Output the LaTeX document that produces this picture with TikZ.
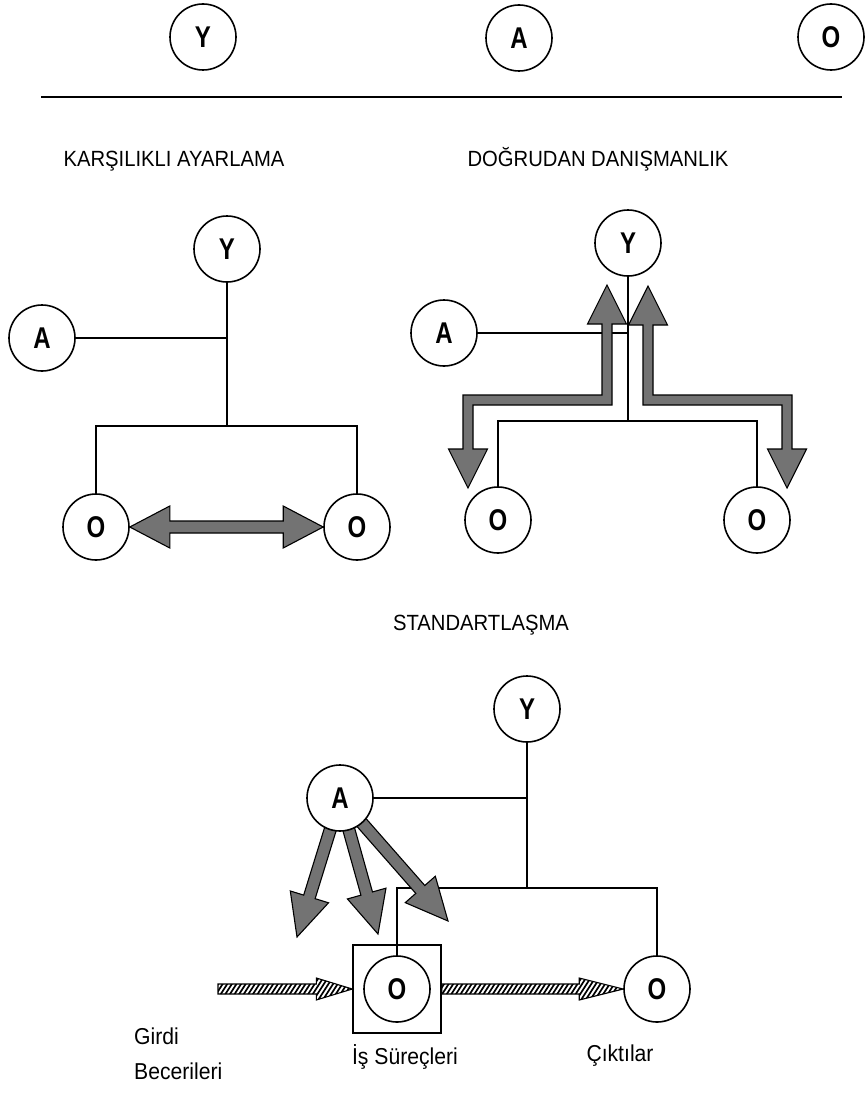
\documentclass[tikz,border=0pt]{standalone}
\usepackage{fontspec}
\setmainfont{Liberation Sans}
\newfontfamily\letterfont[FakeStretch=0.8]{Liberation Sans Bold}
\newfontfamily\labelfont[FakeStretch=0.92]{Liberation Sans}
\usetikzlibrary{calc,backgrounds}

% straight grey arrow with one head: start, tip, shaft half-width, head half-width, head length
\newcommand\fatarrow[5]{%
  \filldraw[fat] let \p1=(#1), \p2=(#2), \n1={atan2(\y2-\y1,\x2-\x1)} in
    ($(\p1)+(\n1+90:#3)$)
    -- ($(\p2)+(\n1+180:#5)+(\n1+90:#3)$)
    -- ($(\p2)+(\n1+180:#5)+(\n1+90:#4)$)
    -- (\p2)
    -- ($(\p2)+(\n1+180:#5)+(\n1-90:#4)$)
    -- ($(\p2)+(\n1+180:#5)+(\n1-90:#3)$)
    -- ($(\p1)+(\n1-90:#3)$) -- cycle;}

% straight grey arrow with a head at both ends
\newcommand\fatdarrow[5]{%
  \filldraw[fat] let \p1=(#1), \p2=(#2), \n1={atan2(\y2-\y1,\x2-\x1)} in
    (\p1)
    -- ($(\p1)+(\n1:#5)+(\n1+90:#4)$)
    -- ($(\p1)+(\n1:#5)+(\n1+90:#3)$)
    -- ($(\p2)+(\n1+180:#5)+(\n1+90:#3)$)
    -- ($(\p2)+(\n1+180:#5)+(\n1+90:#4)$)
    -- (\p2)
    -- ($(\p2)+(\n1+180:#5)+(\n1-90:#4)$)
    -- ($(\p2)+(\n1+180:#5)+(\n1-90:#3)$)
    -- ($(\p1)+(\n1:#5)+(\n1-90:#3)$)
    -- ($(\p1)+(\n1:#5)+(\n1-90:#4)$) -- cycle;}

% outline of a horizontal hatched arrow: start, tip, head length
\newcommand\hatchoutline[3]{($(#1)+(0,-5)$) -- ($(#2)+(-#3,-5)$) -- ($(#2)+(-#3,-11)$)
  -- (#2) -- ($(#2)+(-#3,11)$) -- ($(#2)+(-#3,5)$) -- ($(#1)+(0,5)$) -- cycle}

% hatched arrow: start, tip, head length, first stroke x, number of strokes
\newcommand\hatcharrow[5]{%
  \fill[white] \hatchoutline{#1}{#2}{#3};
  \begin{scope}
    \clip \hatchoutline{#1}{#2}{#3};
    \foreach \k in {0,...,#5} \draw[line width=1.7pt] (#4+\k*4.6,1004) -- ++(18,-28);
  \end{scope}
  \draw[line width=1.1pt, line join=miter] \hatchoutline{#1}{#2}{#3};}

\tikzset{
  unit/.style={circle, draw, line width=1.6pt, fill=white, minimum size=66pt,
    inner sep=0pt, font=\letterfont\fontsize{30}{30}\selectfont},
  link/.style={line width=1.4pt},
  heading/.style={font=\labelfont\fontsize{22}{24}\selectfont, anchor=base},
  caption/.style={font=\labelfont\fontsize{23}{33}\selectfont, anchor=base west, inner sep=0pt},
  fat/.style={fill=black!55, draw=black, line width=1.1pt, line join=miter},
}

\begin{document}
\begin{tikzpicture}[x=1pt,y=-1pt]
\useasboundingbox (0,0) rectangle (867,1097);

% ---------- legend row ----------
\node[unit] (tY) at (203,37) {Y};
\node[unit] (tA) at (519,38) {A};
\node[unit] (tO) at (831,37) {O};
\coordinate (ruleL) at (41,97);
\coordinate (ruleR) at (842,97);

% ---------- headings ----------
\node[heading] (h1) at (174,166) {KARŞILIKLI AYARLAMA};
\node[heading] (h2) at (598,166) {DOĞRUDAN DANIŞMANLIK};
\node[heading] (h3) at (481,630) {STANDARTLAŞMA};

% ---------- mutual adjustment ----------
\node[unit] (mY) at (227,249) {Y};
\node[unit] (mA) at (42,338) {A};
\node[unit] (mO1) at (96,527) {O};
\node[unit] (mO2) at (357,527) {O};
\coordinate (mJ) at (227,338);
\coordinate (mB) at (227,426);

% ---------- direct supervision ----------
\node[unit] (dY) at (628,243) {Y};
\node[unit] (dA) at (444,333) {A};
\node[unit] (dO1) at (498,520) {O};
\node[unit] (dO2) at (757,520) {O};
\coordinate (dJ) at (628,333);
\coordinate (dB) at (628,421);
\coordinate (dLt) at (607,285);
\coordinate (dRt) at (648,286);

% ---------- standardisation ----------
\node[unit] (sY) at (527,709) {Y};
\node[unit] (sA) at (340,798) {A};
\node[draw, line width=1.4pt, minimum size=88pt, inner sep=0pt] (box) at (397,989) {};
\node[unit] (sO1) at (397,989) {O};
\node[unit] (sO2) at (657,989) {O};
\coordinate (sJ) at (527,798);
\coordinate (sB) at (527,888);
\coordinate (t1) at (297,937);
\coordinate (t2) at (378,934);
\coordinate (t3) at (448,921);
\coordinate (in) at (218,989);

\node[caption] (c1) at (134,1044) {Girdi};
\node[caption] (c2) at (134,1079) {Becerileri};
\node[caption, anchor=base] (c3) at (405,1064) {İş Süreçleri};
\node[caption, anchor=base] (c4) at (620,1061) {Çıktılar};

\begin{pgfonlayer}{background}
  \fill[white] (0,0) rectangle (867,1097);
  \draw[line width=2.4pt] (ruleL) -- (ruleR);

  % mutual adjustment
  \draw[link] (mA) -- (mJ);
  \draw[link] (mY) -- (mB);
  \draw[link] (mO1) |- (mB) -| (mO2);
  \fatdarrow{mO1.east}{mO2.west}{6pt}{21pt}{40pt}

  % direct supervision
  \draw[link] (dA) -- (dJ);
  \draw[link] (dY) -- (dB);
  \draw[link] (dO1) |- (dB) -| (dO2);
  \filldraw[fat] (dLt) -- ++(19.5,39) -- ++(-14.5,0) -- ++(0,81) -- ++(-139,0)
    -- ++(0,44) -- ++(14.5,0) -- ++(-19.5,39) -- ++(-19.5,-39) -- ++(14.5,0)
    -- ++(0,-54) -- ++(139,0) -- ++(0,-71) -- ++(-14.5,0) -- cycle;
  \filldraw[fat] (dRt) -- ++(-19.5,39) -- ++(14.5,0) -- ++(0,80) -- ++(139,0)
    -- ++(0,44) -- ++(-14.5,0) -- ++(19.5,39) -- ++(19.5,-39) -- ++(-14.5,0)
    -- ++(0,-54) -- ++(-139,0) -- ++(0,-70) -- ++(14.5,0) -- cycle;

  % standardisation
  \draw[link] (sA) -- (sJ);
  \draw[link] (sY) -- (sB);
  \draw[link] (sO1) |- (sB) -| (sO2);
  \fatarrow{sA}{t1}{6pt}{20pt}{42pt}
  \fatarrow{sA}{t2}{6pt}{20pt}{42pt}
  \fatarrow{sA}{t3}{6pt}{20pt}{42pt}
  \hatcharrow{in}{box.west}{36}{196}{36}
  \hatcharrow{box.east}{sO2.west}{44}{422}{44}
\end{pgfonlayer}
\end{tikzpicture}
\end{document}
